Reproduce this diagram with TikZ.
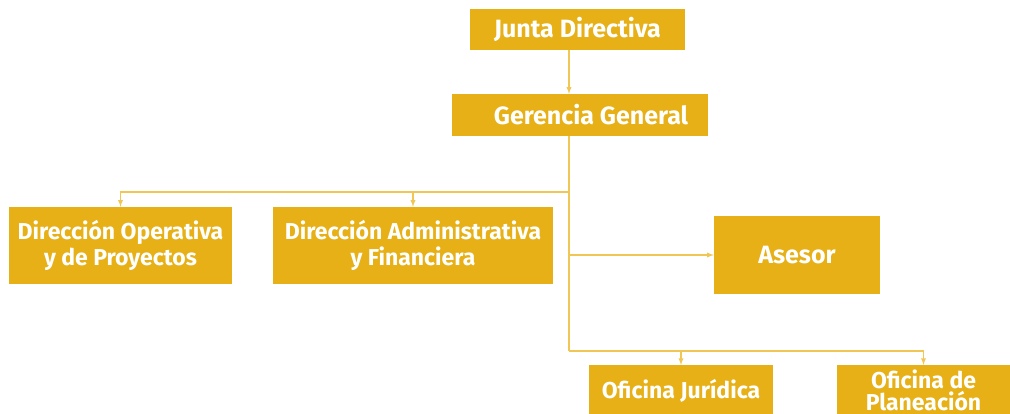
\documentclass[tikz,border=0pt]{standalone}
\usepackage{fontspec}
\setmainfont{Fira Sans}
\usepackage{tikz}
\usetikzlibrary{positioning}
\usetikzlibrary{calc}
\definecolor{boxgold}{RGB}{230,176,22}
\definecolor{linegold}{RGB}{240,198,84}
\tikzset{every picture/.style={x=1pt,y=-1pt},
unit/.style={fill=boxgold,text=white,font=\fontsize{23}{26}\selectfont\bfseries,align=center,inner sep=2pt},
bigunit/.style={unit,font=\fontsize{25}{28}\selectfont\bfseries},
link/.style={draw=linegold,line width=1.3pt},
linkarr/.style={link,-latex}}

\begin{document}
\begin{tikzpicture}
\useasboundingbox (0,0) rectangle (1010,414);
\clip (0,0) rectangle (1010,414);

\node (jd) at (577.5,29.5) [bigunit,minimum width=215pt,minimum height=41pt] {Junta Directiva};
\node (gg) at (580,115) [bigunit,minimum width=256pt,minimum height=42pt] {\hspace{22pt}Gerencia General};
\node (dop) at (120.5,245.5) [unit,minimum width=223pt,minimum height=77pt] {Dirección Operativa\\y de Proyectos};
\node (dad) at (413,245.5) [unit,minimum width=280pt,minimum height=77pt] {Dirección Administrativa\\y Financiera};
\node (ase) at (797,255) [bigunit,minimum width=166pt,minimum height=78pt] {Asesor};
\node (ofj) at (681,365) [unit,anchor=north,minimum width=184pt,inner ysep=14pt,text depth=30pt] {Oficina Jurídica};
\node (ofp) at (923.5,365) [unit,anchor=north,minimum width=173pt,inner ysep=5pt,text depth=25pt,font=\fontsize{23}{22}\selectfont\bfseries] {Oficina de\\Planeación};

\coordinate (top) at (569,50);
\coordinate (br) at (569,192);
\coordinate (bl) at (569,351);

\draw[linkarr] (top) -- (gg.north -| top);
\draw[link] (gg.south -| top) -- (bl);
\draw[linkarr] (br) -| (dop.north);
\draw[linkarr] (br) -| (dad.north);
\draw[linkarr] (ase.west -| br) -- (ase.west);
\draw[linkarr] (bl) -| (ofj.north);
\draw[linkarr] (bl) -| (ofp.north);

\end{tikzpicture}
\end{document}
